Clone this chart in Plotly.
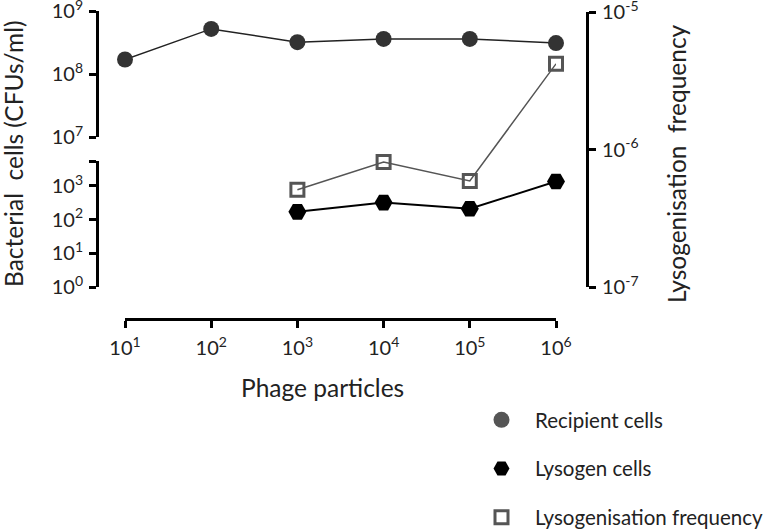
import plotly.graph_objects as go

# ---- data ----
recipient_x = [1e1, 1e2, 1e3, 1e4, 1e5, 1e6]
recipient = [1.7e8, 5.2e8, 3.2e8, 3.6e8, 3.6e8, 3.1e8]
lysogen_x = [1e3, 1e4, 1e5, 1e6]
lysogen = [170, 320, 210, 1350]
freq_x = [1e3, 1e4, 1e5, 1e6]
freq = [5.1e-7, 8.1e-7, 5.9e-7, 4.2e-6]

x_tickvals = [1e1, 1e2, 1e3, 1e4, 1e5, 1e6]
x_ticktext = ["10<sup>1</sup>", "10<sup>2</sup>", "10<sup>3</sup>", "10<sup>4</sup>", "10<sup>5</sup>", "10<sup>6</sup>"]
low_tickvals = [1, 10, 100, 1000, 10 ** 3.74]
low_ticktext = ["10<sup>0</sup>", "10<sup>1</sup>", "10<sup>2</sup>", "10<sup>3</sup>", ""]
up_tickvals = [1e7, 1e8, 1e9]
up_ticktext = ["10<sup>7</sup>", "10<sup>8</sup>", "10<sup>9</sup>"]
r_tickvals = [1e-7, 1e-6, 1e-5]
r_ticktext = ["10<sup>-7</sup>", "10<sup>-6</sup>", "10<sup>-5</sup>"]

FONT = "Lato"
TXT = "#222222"
fig = go.Figure()

rec_marker = dict(symbol="circle", size=16, color="#333333")
lys_marker = dict(symbol="hexagon2", size=18, color="#000000")
frq_marker = dict(symbol="square-open", size=13, color="#555555", line=dict(width=3))

fig.add_trace(go.Scatter(
    x=recipient_x, y=recipient, xaxis="x", yaxis="y2", mode="lines+markers",
    showlegend=False, line=dict(color="#222222", width=1.5), marker=rec_marker, cliponaxis=False))
fig.add_trace(go.Scatter(
    x=lysogen_x, y=lysogen, xaxis="x", yaxis="y", mode="lines+markers",
    showlegend=False, line=dict(color="#000000", width=2), marker=lys_marker, cliponaxis=False))
fig.add_trace(go.Scatter(
    x=freq_x, y=freq, xaxis="x", yaxis="y3", mode="lines+markers",
    showlegend=False, line=dict(color="#555555", width=1.5), marker=frq_marker, cliponaxis=False))

# legend entries (markers only)
for name, mk, grp in [("Recipient cells", dict(rec_marker, size=18, color="#555555"), "a"),
                      ("Lysogen cells", dict(lys_marker, size=20), "b"),
                      ("Lysogenisation frequency", frq_marker, "c")]:
    fig.add_trace(go.Scatter(x=[None], y=[None], xaxis="x", yaxis="y", mode="markers",
                             name=name, legendgroup=grp, marker=mk))

L, R, T, B = 97, 587, 10, 319
W = R - L
H = B - T

def px(xp):
    return (xp - L) / W

def py(yp):
    return (B - yp) / H

axis_common = dict(showline=True, linecolor="black", linewidth=3, ticks="outside",
                   ticklen=7, tickwidth=3, tickcolor="black", showgrid=False, zeroline=False,
                   tickfont=dict(family=FONT, size=20, color=TXT), type="log",
                   ticklabeloverflow="allow")

fig.update_layout(
    width=766, height=530,
    margin=dict(l=L, r=766 - R, t=T, b=530 - B, autoexpand=False),
    paper_bgcolor="white", plot_bgcolor="rgba(0,0,0,0)",
    showlegend=True,
    xaxis=dict(axis_common, domain=[px(125), px(556)], range=[1, 6], anchor="free", position=0,
               tickvals=x_tickvals, ticktext=x_ticktext, ticklabelstandoff=3),
    yaxis=dict(axis_common, domain=[py(287), py(161)], range=[0, 3.74], anchor="free", position=0,
               tickvals=low_tickvals, ticktext=low_ticktext, ticklabelstandoff=2),
    yaxis2=dict(axis_common, domain=[py(137), py(10.5)], range=[7, 9.008], anchor="free", position=0,
                tickvals=up_tickvals, ticktext=up_ticktext, ticklabelstandoff=2),
    yaxis3=dict(axis_common, domain=[py(287), py(11.5)], range=[-7, -4.996], anchor="free", position=1,
                side="right", tickvals=r_tickvals, ticktext=r_ticktext, ticklabelstandoff=2),
    legend=dict(x=px(468), y=py(400), xanchor="left", yanchor="top",
                font=dict(family=FONT, size=20.5, color=TXT),
                tracegroupgap=19, itemwidth=57, bgcolor="rgba(0,0,0,0)"),
    annotations=[
        dict(text="Phage particles", x=px(322), y=py(387), xref="paper", yref="paper",
             xanchor="center", yanchor="middle",
             showarrow=False, font=dict(family=FONT, size=24.5, color=TXT)),
        dict(text="Bacterial  cells (CFUs/ml)", x=px(13), y=py(154), xref="paper", yref="paper",
             xanchor="center", yanchor="middle",
             textangle=-90, showarrow=False, font=dict(family=FONT, size=24.5, color=TXT)),
        dict(text="Lysogenisation  frequency", x=px(676), y=py(164), xref="paper", yref="paper",
             xanchor="center", yanchor="middle",
             textangle=-90, showarrow=False, font=dict(family=FONT, size=24.5, color=TXT)),
    ],
)

fig.write_html("out.html", config={"displayModeBar": False},
               post_script="document.body.style.margin='0';")
